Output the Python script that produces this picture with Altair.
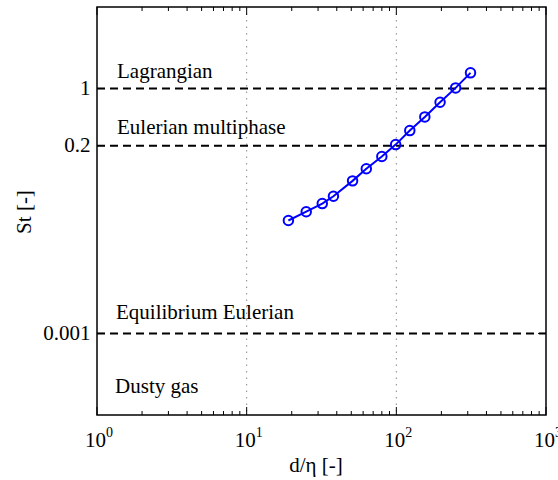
import altair as alt
import pandas as pd

# Particle Stokes number against particle size relative to the Kolmogorov scale
d_eta = [19, 25, 32, 38, 51, 63, 80, 99, 123, 155, 196, 249, 313]
stokes = [0.0242, 0.031, 0.039, 0.048, 0.074, 0.104, 0.147, 0.206, 0.306, 0.45, 0.68, 1.02, 1.56]

# Regime thresholds and their names
thresholds = [1, 0.2, 0.001]
regime_names = ["Lagrangian", "Eulerian multiphase", "Equilibrium Eulerian", "Dusty gas"]
regime_x = [1.36, 1.36, 1.34, 1.32]
regime_y = [1.33, 0.274, 0.00149, 0.000185]

# Axis tick positions
x_major = [1, 10, 100, 1000]
x_exponents = ["0", "1", "2", "3"]
x_minor = [m * d for d in (1, 10, 100) for m in range(2, 10)]
y_ticks = [0.001, 0.2, 1]

X_TITLE = "d/η [-]"
Y_TITLE = "St [-]"

W, H = 449, 408
FONT = "Liberation Serif"

xs = alt.Scale(type="log", domain=[1, 1000])
ys = alt.Scale(type="log", domain=[1e-4, 10])

series = pd.DataFrame({"d": d_eta, "St": stokes})
thr = pd.DataFrame({"St": thresholds})
labels = pd.DataFrame({"name": regime_names, "x": regime_x, "y": regime_y})
major = pd.DataFrame({"x": x_major, "exp": x_exponents})
minor = pd.DataFrame({"x": x_minor})
grid = pd.DataFrame({"x": [10, 100]})
yt = pd.DataFrame({"St": y_ticks})

x_axis = alt.Axis(title=None, labels=False, ticks=False, domain=False, grid=False)
y_axis = alt.Axis(title=None, values=y_ticks, format="~g", ticks=False, domain=False,
                  grid=False, labelPadding=7, labelFont=FONT, labelFontSize=21,
                  labelColor="black")

# Every layer shares the same scale and axis definition
def px(field):
    return alt.X(field, scale=xs, axis=x_axis)

def py(field):
    return alt.Y(field, scale=ys, axis=y_axis)

gridlines = alt.Chart(grid).mark_rule(color="#8a8a8a", strokeWidth=1, strokeDash=[1.5, 5]).encode(
    x=px("x:Q"), y=alt.value(0), y2=alt.value(H))

dashed = alt.Chart(thr).mark_rule(color="black", strokeWidth=2, strokeDash=[8, 5]).encode(
    y=py("St:Q"), x=alt.value(0), x2=alt.value(W))

line = alt.Chart(series).mark_line(color="#0000ff", strokeWidth=2).encode(
    x=px("d:Q"), y=py("St:Q"))
points = alt.Chart(series).mark_point(shape="circle", filled=False, color="#0000ff",
                                      strokeWidth=2, size=90, opacity=1).encode(
    x=px("d:Q"), y=py("St:Q"))

annot = alt.Chart(labels).mark_text(font=FONT, fontSize=21, align="left",
                                    baseline="alphabetic", color="black").encode(
    x=px("x:Q"), y=py("y:Q"), text="name:N")

minor_bottom = alt.Chart(minor).mark_rule(color="black", strokeWidth=1).encode(
    x=px("x:Q"), y=alt.value(H), y2=alt.value(H - 4))
minor_top = alt.Chart(minor).mark_rule(color="black", strokeWidth=1).encode(
    x=px("x:Q"), y=alt.value(0), y2=alt.value(4))
major_bottom = alt.Chart(major).mark_rule(color="black", strokeWidth=1).encode(
    x=px("x:Q"), y=alt.value(H), y2=alt.value(H - 8))
major_top = alt.Chart(major).mark_rule(color="black", strokeWidth=1).encode(
    x=px("x:Q"), y=alt.value(0), y2=alt.value(8))
ytick_left = alt.Chart(yt).mark_rule(color="black", strokeWidth=1).encode(
    y=py("St:Q"), x=alt.value(0), x2=alt.value(8))
ytick_right = alt.Chart(yt).mark_rule(color="black", strokeWidth=1).encode(
    y=py("St:Q"), x=alt.value(W), x2=alt.value(W - 8))

# Decade labels 10^n: base and raised exponent
tick_base = alt.Chart(major).mark_text(font=FONT, fontSize=21, align="right",
                                       baseline="alphabetic", dx=9, color="black").encode(
    x=px("x:Q"), y=alt.value(H + 32), text=alt.value("10"))
tick_exp = alt.Chart(major).mark_text(font=FONT, fontSize=14, align="left",
                                      baseline="alphabetic", dx=9, color="black").encode(
    x=px("x:Q"), y=alt.value(H + 22), text="exp:N")

# Axis titles
x_title = alt.Chart(pd.DataFrame({"t": [X_TITLE]})).mark_text(
    font=FONT, fontSize=21, align="center", baseline="alphabetic", color="black").encode(
    x=alt.value(219), y=alt.value(H + 57), text="t:N")
y_title = alt.Chart(pd.DataFrame({"t": [Y_TITLE]})).mark_text(
    font=FONT, fontSize=21, align="center", baseline="middle", angle=270, color="black").encode(
    x=alt.value(-72), y=alt.value(205), text="t:N")

chart = alt.layer(
    gridlines, dashed, line, points, annot,
    minor_bottom, minor_top, major_bottom, major_top, ytick_left, ytick_right,
    tick_base, tick_exp, x_title, y_title,
).properties(
    width=W, height=H,
    background="white",
    autosize=alt.AutoSizeParams(type="none"),
    padding={"left": 97, "top": 7, "right": 12, "bottom": 65},
).configure_axis(
    labelFont=FONT, labelFontSize=21, labelColor="black",
).configure_view(
    stroke="black", strokeWidth=1.5, clip=False
)

chart.save("out.html", embed_options={"renderer": "svg", "actions": False})
